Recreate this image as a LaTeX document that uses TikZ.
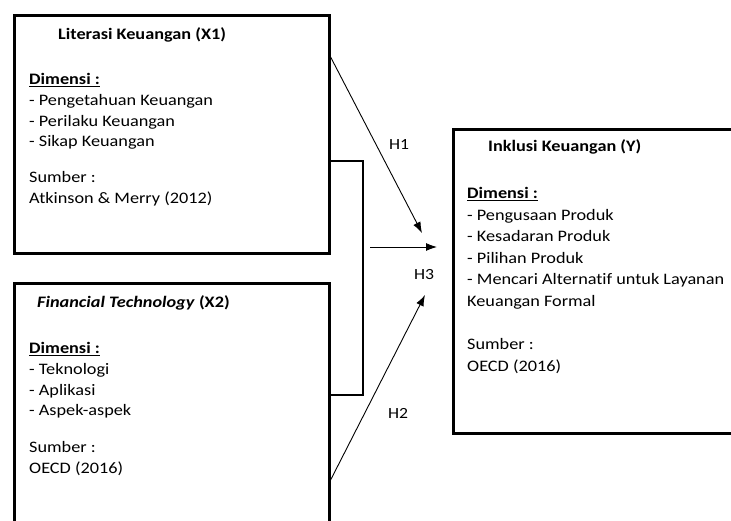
\documentclass[tikz,border=0pt]{standalone}
\usepackage{fontspec}
\setmainfont{Carlito}[FakeStretch=1.14, Ligatures=NoCommon]
\usetikzlibrary{arrows.meta}
\usetikzlibrary{positioning}
\tikzset{
	box/.style={draw=black, line width=2.6pt, anchor=north west, inner sep=0pt},
	txt/.style={anchor=north west, inner sep=0pt, align=left,
		font=\fontsize{16}{20.8}\selectfont},
	title/.style={txt, anchor=base west, font=\fontsize{16}{20.8}\selectfont\bfseries},
	hlabel/.style={inner sep=0pt, font=\fontsize{15.5}{18}\selectfont},
	bracket/.style={draw=black, line width=2.4pt},
}
\tikzstyle{arrow} = [line width=0.9pt, -{Latex[length=11pt,width=8pt]}]
\newcommand{\dimhead}{\textbf{\underline{Dimensi :}}}

\begin{document}
\begin{tikzpicture}[x=1pt,y=-1pt]
			\clip (0,0) rectangle (731,521);
			% Boxes
			\node[box, minimum width=315pt, minimum height=238pt] (litbox) at (13,14) {};
			\node[box, minimum width=315pt, minimum height=280pt] (fintechbox) at (13,282) {};
			\node[box, minimum width=320pt, minimum height=304pt] (inclbox) at (452,128) {};
			% Box texts
			\node[title] (littitle) at (58,40) {Literasi Keuangan (X1)};
			\node[txt] (litbody) at (29,73) {\dimhead\\- Pengetahuan Keuangan\\- Perilaku Keuangan\\- Sikap Keuangan\\[15pt]Sumber :\\Atkinson \& Merry (2012)};
			\node[title] (fintechtitle) at (37,308) {\textit{Financial Technology} (X2)};
			\node[txt] (fintechbody) at (29,342) {\dimhead\\- Teknologi\\- Aplikasi\\- Aspek-aspek\\[16pt]Sumber :\\OECD (2016)};
			\node[title] (incltitle) at (488,152) {Inklusi Keuangan (Y)};
			\node[txt, font=\fontsize{16}{21.6}\selectfont] (inclbody) at (467,187) {\dimhead\\- Pengusaan Produk\\- Kesadaran Produk\\- Pilihan Produk\\- Mencari Alternatif untuk Layanan\\Keuangan Formal\\[21.6pt]Sumber :\\OECD (2016)};
			% Bracket
			\coordinate (bt) at (363,161);
			\coordinate (bb) at (363,395);
			\draw[bracket] (litbox.east |- bt) -- (bt) -- (bb) -- (fintechbox.east |- bb);
			% Arrows
			\coordinate (h1start) at (329,57);
			\coordinate (h1end) at (422,233);
			\coordinate (h3start) at (370,247);
			\coordinate (h3end) at (437,247);
			\coordinate (h2start) at (329,480);
			\coordinate (h2end) at (425,295);
			\draw[arrow] (litbox.east |- h1start) -- (h1end);
			\draw[arrow] (h3start) -- (h3end);
			\draw[arrow] (fintechbox.east |- h2start) -- (h2end);
			% Labels
			\node[hlabel] (h1) at (399,145) {H1};
			\node[hlabel] (h3) at (424,275) {H3};
			\node[hlabel] (h2) at (398,413) {H2};
		\end{tikzpicture}
\end{document}
